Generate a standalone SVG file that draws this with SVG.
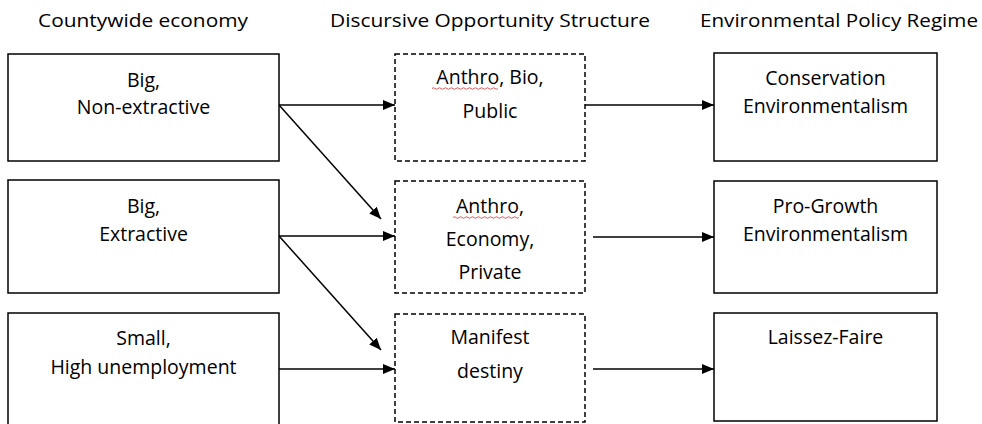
<svg xmlns="http://www.w3.org/2000/svg" width="982" height="424" viewBox="0 0 982 424">
<defs>
<style>
.box{fill:#fff;stroke:#000;stroke-width:1.5}
.dbox{fill:#fff;stroke:#000;stroke-width:1.5;stroke-dasharray:5 3}
.t{font-family:"Open Sans","Noto Sans","Liberation Sans",sans-serif;font-size:19.5px;fill:#000;text-anchor:middle}
.h{font-family:"Open Sans","Noto Sans","Liberation Sans",sans-serif;font-size:18px;fill:#000}
.c{stroke:#000;stroke-width:1.5;fill:none;marker-end:url(#ah)}
.sq{stroke:#e03030;stroke-width:0.8;fill:none}
</style>
<marker id="ah" viewBox="0 0 12 10" refX="12" refY="5" markerWidth="12" markerHeight="10" markerUnits="userSpaceOnUse" orient="auto">
<path d="M0,0 L12,5 L0,10 Z" fill="#000"/>
</marker>
</defs>
<rect width="982" height="424" fill="#fff"/>
<g id="headers">
<text class="h" x="38" y="27" textLength="210" lengthAdjust="spacingAndGlyphs">Countywide economy</text>
<text class="h" x="330" y="27" textLength="320" lengthAdjust="spacingAndGlyphs">Discursive Opportunity Structure</text>
<text class="h" x="700" y="27" textLength="278" lengthAdjust="spacingAndGlyphs">Environmental Policy Regime</text>
</g>
<g id="connectors">
<line class="c" x1="279" y1="105" x2="395" y2="105"/>
<line class="c" x1="279" y1="105" x2="381" y2="219"/>
<line class="c" x1="279" y1="236" x2="395" y2="236"/>
<line class="c" x1="279" y1="236" x2="381" y2="350"/>
<line class="c" x1="279" y1="369" x2="395" y2="369"/>
<line class="c" x1="584" y1="105" x2="714" y2="105"/>
<line class="c" x1="593" y1="237" x2="714" y2="237"/>
<line class="c" x1="593" y1="369" x2="714" y2="369"/>
</g>
<g id="n-big-nonextractive">
<rect class="box" x="8" y="54" width="271" height="107"/>
<text class="t" x="143.5" y="87">Big,</text>
<text class="t" x="143.5" y="114">Non-extractive</text>
</g>
<g id="n-big-extractive">
<rect class="box" x="8" y="180" width="271" height="113"/>
<text class="t" x="143.5" y="213">Big,</text>
<text class="t" x="143.5" y="241">Extractive</text>
</g>
<g id="n-small">
<rect class="box" x="8" y="313" width="271" height="115"/>
<text class="t" x="143.5" y="345">Small,</text>
<text class="t" x="143.5" y="374">High unemployment</text>
</g>
<g id="n-anthro-bio">
<rect class="dbox" x="395" y="54" width="190" height="107"/>
<text class="t" x="490" y="84">Anthro, Bio,</text>
<text class="t" x="490" y="118">Public</text>
<path class="sq" d="M432,88.5 q1.5,-1.5 3,0 t3,0 t3,0 t3,0 t3,0 t3,0 t3,0 t3,0 t3,0 t3,0 t3,0 t3,0 t3,0 t3,0 t3,0 t3,0 t3,0 t3,0 t3,0 t3,0 t3,0 t3,0"/>
</g>
<g id="n-anthro-economy">
<rect class="dbox" x="395" y="181" width="190" height="112"/>
<text class="t" x="490" y="213">Anthro,</text>
<text class="t" x="490" y="246">Economy,</text>
<text class="t" x="490" y="279">Private</text>
<path class="sq" d="M453,217.5 q1.5,-1.5 3,0 t3,0 t3,0 t3,0 t3,0 t3,0 t3,0 t3,0 t3,0 t3,0 t3,0 t3,0 t3,0 t3,0 t3,0 t3,0 t3,0 t3,0 t3,0 t3,0 t3,0 t3,0"/>
</g>
<g id="n-manifest">
<rect class="dbox" x="395" y="314" width="190" height="108"/>
<text class="t" x="490" y="344">Manifest</text>
<text class="t" x="490" y="378">destiny</text>
</g>
<g id="n-conservation">
<rect class="box" x="714" y="53" width="223" height="108"/>
<text class="t" x="825.5" y="85">Conservation</text>
<text class="t" x="825.5" y="113">Environmentalism</text>
</g>
<g id="n-progrowth">
<rect class="box" x="714" y="181" width="223" height="112"/>
<text class="t" x="825.5" y="213">Pro-Growth</text>
<text class="t" x="825.5" y="241">Environmentalism</text>
</g>
<g id="n-laissez">
<rect class="box" x="714" y="313" width="223" height="108"/>
<text class="t" x="825.5" y="344">Laissez-Faire</text>
</g>
</svg>
